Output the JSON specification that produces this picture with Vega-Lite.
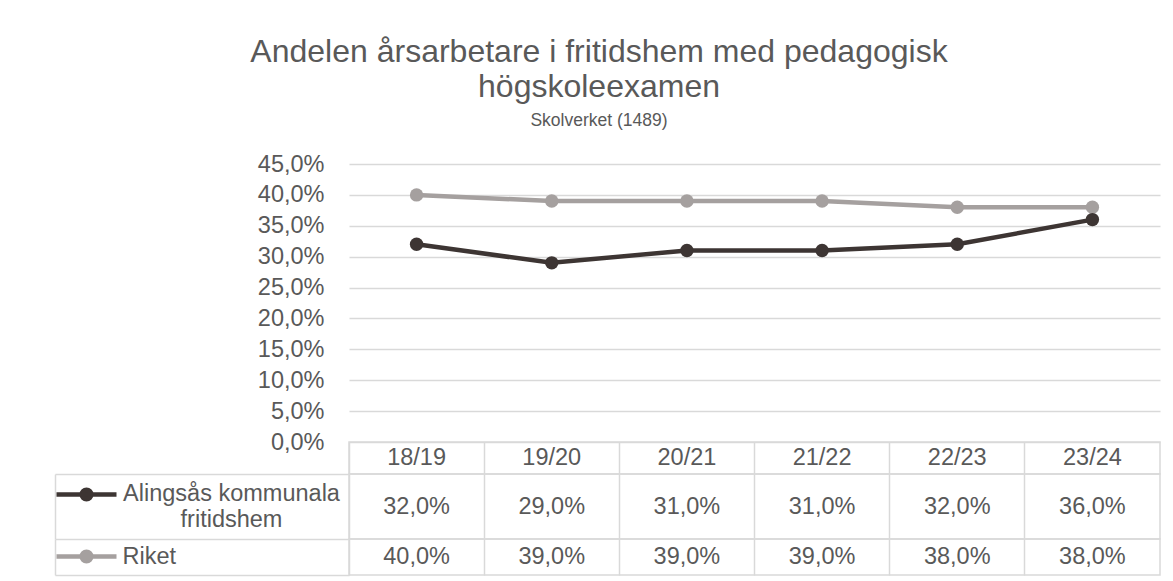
{
  "$schema": "https://vega.github.io/schema/vega-lite/v6.json",
  "padding": {"left": 53, "top": 35, "right": 10, "bottom": 4},
  "background": "white",
  "title": {
    "text": ["Andelen årsarbetare i fritidshem med pedagogisk", "högskoleexamen"],
    "subtitle": "Skolverket (1489)",
    "anchor": "middle",
    "dx": -8,
    "font": "Liberation Sans",
    "fontSize": 32,
    "fontWeight": "normal",
    "color": "#595959",
    "lineHeight": 35,
    "subtitleFont": "Liberation Sans",
    "subtitleFontSize": 17.5,
    "subtitleColor": "#595959",
    "subtitlePadding": 8,
    "offset": 22
  },
  "datasets": {
    "d": [
      {"year": "18/19", "series": "Riket", "value": 0.40},
      {"year": "19/20", "series": "Riket", "value": 0.39},
      {"year": "20/21", "series": "Riket", "value": 0.39},
      {"year": "21/22", "series": "Riket", "value": 0.39},
      {"year": "22/23", "series": "Riket", "value": 0.38},
      {"year": "23/24", "series": "Riket", "value": 0.38},
      {"year": "18/19", "series": "Alingsås kommunala fritidshem", "value": 0.32},
      {"year": "19/20", "series": "Alingsås kommunala fritidshem", "value": 0.29},
      {"year": "20/21", "series": "Alingsås kommunala fritidshem", "value": 0.31},
      {"year": "21/22", "series": "Alingsås kommunala fritidshem", "value": 0.31},
      {"year": "22/23", "series": "Alingsås kommunala fritidshem", "value": 0.32},
      {"year": "23/24", "series": "Alingsås kommunala fritidshem", "value": 0.36}
    ]
  },
  "spacing": 0,
  "bounds": "flush",
  "vconcat": [
    {
      "width": 811,
      "height": 278,
      "data": {"name": "d"},
      "encoding": {
        "x": {"field": "year", "type": "ordinal", "sort": null, "axis": null},
        "y": {
          "field": "value", "type": "quantitative",
          "scale": {"domain": [0, 0.45], "nice": false},
          "axis": {"tickCount": 9, "format": ".1%", "grid": true, "gridColor": "#d9d9d9", "gridWidth": 1.3,
                   "domain": false, "ticks": false, "tickSize": 0, "labelPadding": 25, "title": null}
        },
        "color": {
          "field": "series", "type": "nominal",
          "scale": {"domain": ["Alingsås kommunala fritidshem", "Riket"], "range": ["#3d3533", "#a5a09f"]},
          "legend": null
        }
      },
      "layer": [
        {"mark": {"type": "line", "strokeWidth": 4.5}},
        {"mark": {"type": "point", "filled": true, "size": 180, "opacity": 1}}
      ]
    },
    {
      "width": 811,
      "height": 32,
      "data": {"name": "d"},
      "transform": [{"filter": "datum.series == 'Riket'"}],
      "view": {"stroke": "#d9d9d9", "strokeWidth": 1.5},
      "mark": {"type": "text", "fontSize": 23.5, "color": "#595959", "font": "Liberation Sans"},
      "encoding": {
        "x": {"field": "year", "type": "ordinal", "sort": null,
              "scale": {"type": "band", "paddingInner": 0, "paddingOuter": 0},
              "axis": {"orient": "bottom", "grid": true, "bandPosition": 0, "gridColor": "#d9d9d9", "gridWidth": 1.5,
                       "labels": false, "ticks": false, "domain": false, "title": null}},
        "text": {"field": "year"}
      }
    },
    {
      "width": 811,
      "height": 65,
      "data": {"name": "d"},
      "transform": [{"filter": "datum.series == 'Alingsås kommunala fritidshem'"}],
      "view": {"stroke": "#d9d9d9", "strokeWidth": 1.5},
      "encoding": {
        "x": {"field": "year", "type": "ordinal", "sort": null,
              "scale": {"type": "band", "paddingInner": 0, "paddingOuter": 0},
              "axis": {"orient": "bottom", "grid": true, "bandPosition": 0, "gridColor": "#d9d9d9", "gridWidth": 1.5,
                       "labels": false, "ticks": false, "domain": false, "title": null}}
      },
      "layer": [
        {"mark": {"type": "text", "fontSize": 23.5, "color": "#595959", "font": "Liberation Sans"},
         "encoding": {
           "y": {"field": "series", "type": "nominal",
                 "scale": {"type": "band", "paddingInner": 0, "paddingOuter": 0},
                 "axis": {"orient": "left", "bandPosition": 0, "labelOffset": -13, "tickSize": 294, "tickColor": "#d9d9d9", "tickWidth": 1.5,
                          "domain": false, "grid": false, "labelPadding": -176, "labelAlign": "center",
                          "labelBaseline": "middle", "labelLineHeight": 26, "labelLimit": 400,
                          "labelExpr": "['Alingsås kommunala', 'fritidshem']", "title": null}},
           "text": {"field": "value", "type": "quantitative", "format": ".1%"}}},
        {"mark": {"type": "point", "filled": true, "opacity": 0},
         "encoding": {
           "y": {"field": "series", "type": "nominal",
                 "axis": {"orient": "left", "offset": 294, "domain": true, "domainColor": "#d9d9d9", "domainWidth": 1.5,
                          "ticks": false, "labels": false, "grid": false, "title": null}},
           "color": {"field": "series", "type": "nominal", "scale": {"range": ["#3d3533"]},
           "legend": {"orient": "none", "legendX": -295, "legendY": -12, "title": null, "padding": 0,
                      "labelExpr": "''", "symbolType": "M-1,0L1,0M0.16,0A0.16,0.16,0,1,1,-0.16,0A0.16,0.16,0,1,1,0.16,0Z",
                      "symbolSize": 3600, "symbolStrokeWidth": 4.5, "symbolOpacity": 1,
                      "symbolFillColor": "#3d3533", "symbolStrokeColor": "#3d3533",
                      "encode": {"symbols": {"update": {"opacity": {"value": 1}, "fill": {"value": "#3d3533"}, "stroke": {"value": "#3d3533"}, "strokeWidth": {"value": 4.5}}}}}}}}
      ],
      "resolve": {"axis": {"y": "independent"}}
    },
    {
      "width": 811,
      "height": 36,
      "data": {"name": "d"},
      "transform": [{"filter": "datum.series == 'Riket'"}],
      "view": {"stroke": "#d9d9d9", "strokeWidth": 1.5},
      "encoding": {
        "x": {"field": "year", "type": "ordinal", "sort": null,
              "scale": {"type": "band", "paddingInner": 0, "paddingOuter": 0},
              "axis": {"orient": "bottom", "grid": true, "bandPosition": 0, "gridColor": "#d9d9d9", "gridWidth": 1.5,
                       "labels": false, "ticks": false, "domain": false, "title": null}}
      },
      "layer": [
        {"mark": {"type": "text", "fontSize": 23.5, "color": "#595959", "font": "Liberation Sans"},
         "encoding": {
           "y": {"field": "series", "type": "nominal",
                 "scale": {"type": "band", "paddingInner": 0, "paddingOuter": 0},
                 "axis": {"orient": "left", "bandPosition": 0, "labelOffset": 0, "tickSize": 294, "tickColor": "#d9d9d9", "tickWidth": 1.5,
                          "domain": false, "grid": false, "labelPadding": -67, "labelAlign": "left",
                          "labelBaseline": "middle", "labelLimit": 400, "title": null}},
           "text": {"field": "value", "type": "quantitative", "format": ".1%"}}},
        {"mark": {"type": "point", "filled": true, "opacity": 0},
         "encoding": {
           "y": {"field": "series", "type": "nominal",
                 "axis": {"orient": "left", "bandPosition": 1, "tickSize": 294, "tickColor": "#d9d9d9", "tickWidth": 1.5,
                          "domain": false, "grid": false, "labels": false, "title": null}},
           "color": {"field": "series", "type": "nominal", "scale": {"range": ["#a5a09f"]},
           "legend": {"orient": "none", "legendX": -295, "legendY": -15, "title": null, "padding": 0,
                      "labelExpr": "''", "symbolType": "M-1,0L1,0M0.16,0A0.16,0.16,0,1,1,-0.16,0A0.16,0.16,0,1,1,0.16,0Z",
                      "symbolSize": 3600, "symbolStrokeWidth": 4.5, "symbolOpacity": 1,
                      "symbolFillColor": "#a5a09f", "symbolStrokeColor": "#a5a09f",
                      "encode": {"symbols": {"update": {"opacity": {"value": 1}, "fill": {"value": "#a5a09f"}, "stroke": {"value": "#a5a09f"}, "strokeWidth": {"value": 4.5}}}}}}}},
        {"mark": {"type": "point", "opacity": 0},
         "encoding": {
           "y": {"field": "series", "type": "nominal",
                 "axis": {"orient": "left", "offset": 294, "domain": true, "domainColor": "#d9d9d9", "domainWidth": 1.5,
                          "ticks": false, "labels": false, "grid": false, "title": null}}}}
      ],
      "resolve": {"axis": {"y": "independent"}}
    }
  ],
  "resolve": {
    "scale": {"x": "independent", "y": "independent", "color": "independent"},
    "legend": {"color": "independent"}
  },
  "config": {
    "view": {"stroke": null},
    "font": "Liberation Sans",
    "locale": {"number": {"decimal": ",", "thousands": "\u00a0", "grouping": [3], "currency": ["", " kr"]}},
    "axis": {"labelFont": "Liberation Sans", "labelColor": "#595959", "labelFontSize": 23.5}
  }
}
